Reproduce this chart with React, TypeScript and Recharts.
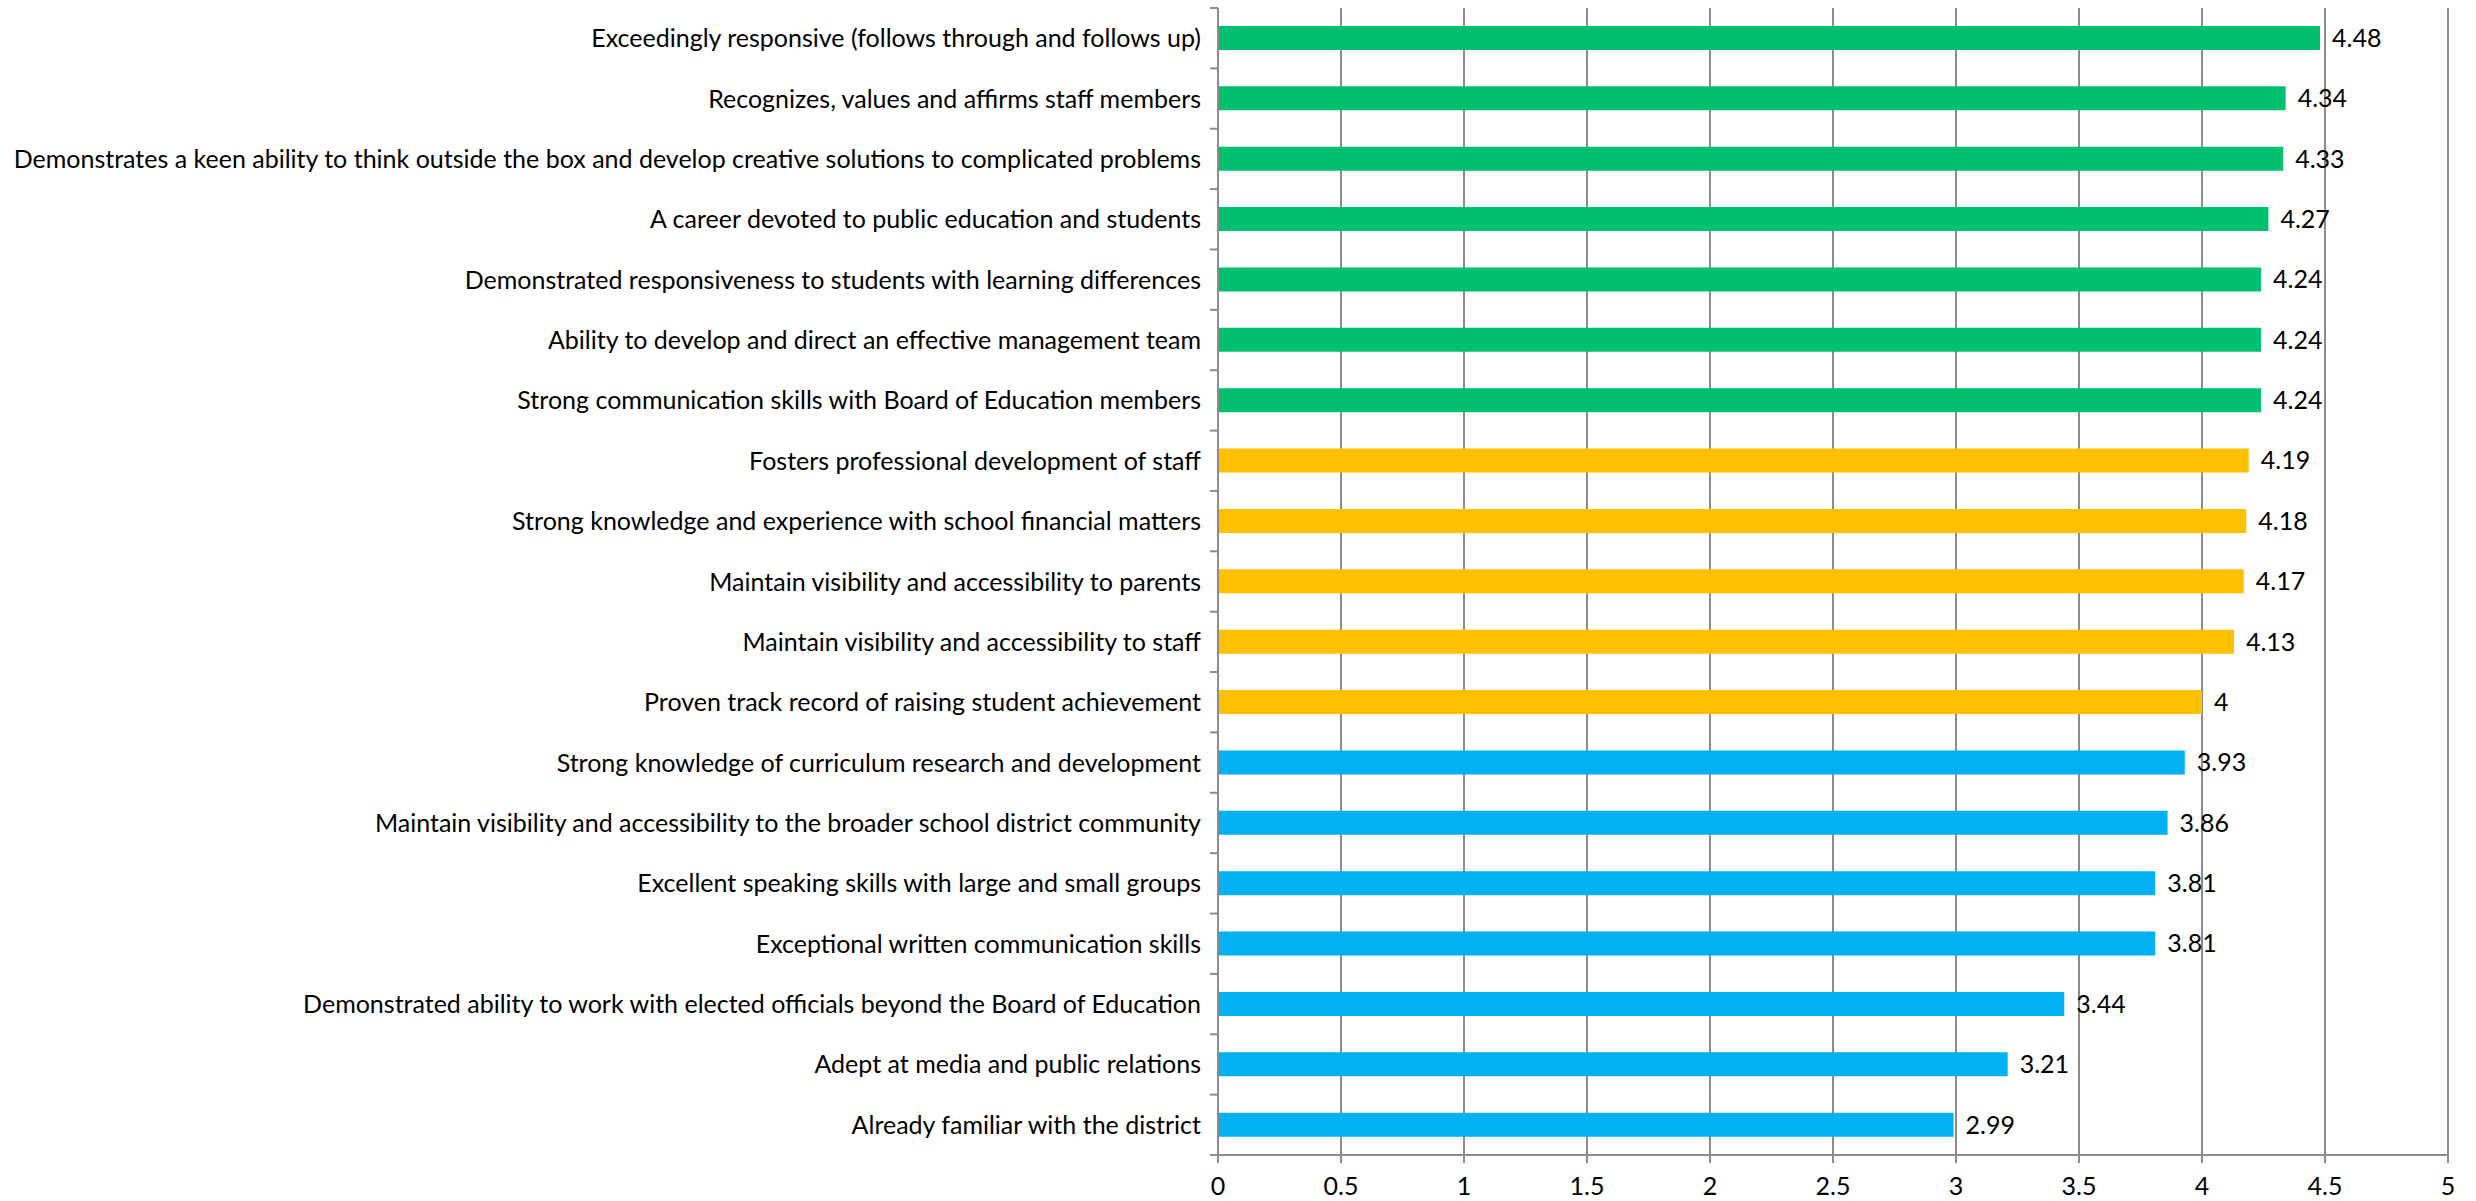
import React from 'react';
import { BarChart, Bar, XAxis, YAxis, CartesianGrid, LabelList, Cell } from 'recharts';

const CATEGORIES = [
  'Exceedingly responsive (follows through and follows up)',
  'Recognizes, values and affirms staff members',
  'Demonstrates a keen ability to think outside the box and develop creative solutions to complicated problems',
  'A career devoted to public education and students',
  'Demonstrated responsiveness to students with learning differences',
  'Ability to develop and direct an effective management team',
  'Strong communication skills with Board of Education members',
  'Fosters professional development of staff',
  'Strong knowledge and experience with school financial matters',
  'Maintain visibility and accessibility to parents',
  'Maintain visibility and accessibility to staff',
  'Proven track record of raising student achievement',
  'Strong knowledge of curriculum research and development',
  'Maintain visibility and accessibility to the broader school district community',
  'Excellent speaking skills with large and small groups',
  'Exceptional written communication skills',
  'Demonstrated ability to work with elected officials beyond the Board of Education',
  'Adept at media and public relations',
  'Already familiar with the district',
];

const SCORES = [4.48, 4.34, 4.33, 4.27, 4.24, 4.24, 4.24, 4.19, 4.18, 4.17, 4.13, 4, 3.93, 3.86, 3.81, 3.81, 3.44, 3.21, 2.99];

// tier per row: 0 = green, 1 = yellow, 2 = blue
const TIERS = [0, 0, 0, 0, 0, 0, 0, 1, 1, 1, 1, 1, 2, 2, 2, 2, 2, 2, 2];
const TIER_COLORS = ['#00BF6F', '#FFC000', '#00B0F0'];

const X_TICKS = [0, 0.5, 1, 1.5, 2, 2.5, 3, 3.5, 4, 4.5, 5];

const W = 2476;
const H = 1201;
const X_AXIS_H = 30;
const MARGIN = { top: 8, right: 28, bottom: 16, left: 0 };
const Y_AXIS_W = 1218;
const FONT = 'Lato, "Open Sans", sans-serif';
const FONT_SIZE = 25;
const GRID = '#8C8C8C';

const data = CATEGORIES.map((name, i) => ({ name, score: SCORES[i], tier: TIERS[i] }));

const STEP = (H - MARGIN.top - MARGIN.bottom - X_AXIS_H) / CATEGORIES.length;

const CategoryTick = ({ x, y, payload, index }: any) => (
  <g>
    <text x={x - 17} y={y} dy={9} textAnchor="end" fill="#000" fontSize={FONT_SIZE} fontFamily={FONT}>
      {payload.value}
    </text>
    <line x1={x - 8} x2={x} y1={y - STEP / 2} y2={y - STEP / 2} stroke={GRID} strokeWidth={2} />
    {index === CATEGORIES.length - 1 && (
      <line x1={x - 8} x2={x} y1={y + STEP / 2} y2={y + STEP / 2} stroke={GRID} strokeWidth={2} />
    )}
  </g>
);

export default function App() {
  return (
    <div style={{ position: 'absolute', left: 0, top: 0, width: W, height: H, background: '#fff' }}>
      <BarChart width={W} height={H} data={data} layout="vertical" margin={MARGIN} barCategoryGap={0}>
        <CartesianGrid horizontal={false} stroke={GRID} strokeWidth={2} />
        <XAxis
          type="number"
          domain={[0, 5]}
          ticks={X_TICKS}
          interval={0}
          height={X_AXIS_H}
          stroke={GRID}
          strokeWidth={2}
          tickSize={8}
          tickMargin={14}
          tick={{ fill: '#000', fontSize: FONT_SIZE, fontFamily: FONT }}
        />
        <YAxis
          type="category"
          dataKey="name"
          width={Y_AXIS_W}
          interval={0}
          tickLine={false}
          tickSize={0}
          tickMargin={0}
          stroke={GRID}
          strokeWidth={2}
          tick={<CategoryTick />}
        />
        <Bar dataKey="score" barSize={24} isAnimationActive={false}>
          {data.map((d, i) => (
            <Cell key={i} fill={TIER_COLORS[d.tier]} />
          ))}
          <LabelList dataKey="score" position="right" offset={12} fill="#000" fontSize={FONT_SIZE} fontFamily={FONT} />
        </Bar>
      </BarChart>
    </div>
  );
}
